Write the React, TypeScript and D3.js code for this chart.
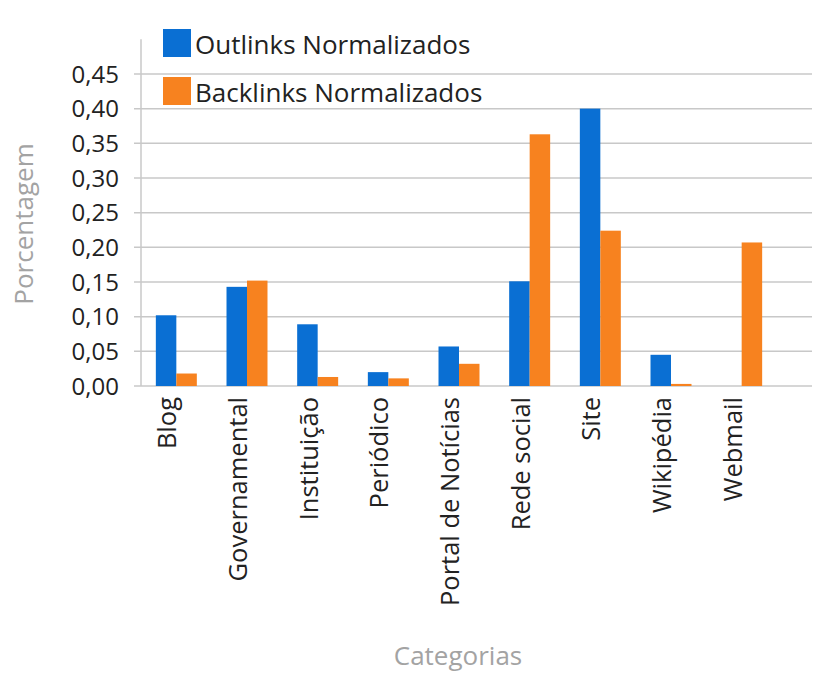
import React from "react";
import * as d3 from "d3";

const categories = ["Blog", "Governamental", "Instituição", "Periódico", "Portal de Notícias", "Rede social", "Site", "Wikipédia", "Webmail"];
const outlinks = [0.102, 0.143, 0.089, 0.02, 0.057, 0.151, 0.4, 0.045, 0];
const backlinks = [0.018, 0.152, 0.013, 0.011, 0.032, 0.363, 0.224, 0.003, 0.207];
const yTicks = [0, 0.05, 0.1, 0.15, 0.2, 0.25, 0.3, 0.35, 0.4, 0.45];
const seriesNames = ["Outlinks Normalizados", "Backlinks Normalizados"];
const seriesColors = ["#0a6fd3", "#f7821f"];

const W = 816;
const H = 673;
const FONT = "'Open Sans', sans-serif";

export default function App() {
  const left = 141;
  const right = 777;
  const x = d3.scaleBand<string>().domain(categories).range([left, right]).paddingInner(0.42).paddingOuter(0.21);
  const sub = d3.scaleBand<number>().domain([0, 1]).range([0, x.bandwidth()]);
  const y = d3.scaleLinear().domain([0, 0.5]).range([386, 39.3]);
  const fmt = (v: number) => d3.format(".2f")(v).replace(".", ",");
  const series = [outlinks, backlinks];

  return (
    <svg width={W} height={H} style={{ position: "absolute", left: 0, top: 0, background: "#fff" }} fontFamily={FONT}>
      <rect width={W} height={H} fill="#fff" />
      {yTicks.map((t) => (
        <g key={t}>
          <line x1={134} x2={812} y1={y(t)} y2={y(t)} stroke="#c8c8c8" strokeWidth={1.5} />
          <text x={119} y={y(t)} dy="0.36em" textAnchor="end" fontSize={24} fill="#222">
            {fmt(t)}
          </text>
        </g>
      ))}
      <line x1={left} x2={left} y1={y(0.5)} y2={y(0)} stroke="#c8c8c8" strokeWidth={1.5} />
      {categories.map((c, i) =>
        series.map((s, k) => (
          <rect
            key={c + k}
            x={(x(c) as number) + (sub(k) as number)}
            y={y(s[i])}
            width={sub.bandwidth()}
            height={y(0) - y(s[i])}
            fill={seriesColors[k]}
          />
        ))
      )}
      {categories.map((c) => {
        const cx = (x(c) as number) + x.bandwidth() / 2;
        return (
          <text key={c} transform={`translate(${cx},397) rotate(-90)`} textAnchor="end" fontSize={25.5} fill="#222">
            {c}
          </text>
        );
      })}
      {seriesNames.map((n, k) => (
        <g key={n} transform={`translate(163,${29 + k * 48})`}>
          <rect width={28} height={28} fill={seriesColors[k]} />
          <text x={32} y={25} fontSize={26} fill="#222">
            {n}
          </text>
        </g>
      ))}
      <text transform="translate(33,224) rotate(-90)" textAnchor="middle" fontSize={26} fill="#a3a3a3">
        Porcentagem
      </text>
      <text x={458} y={665} textAnchor="middle" fontSize={26} fill="#a3a3a3">
        Categorias
      </text>
    </svg>
  );
}
